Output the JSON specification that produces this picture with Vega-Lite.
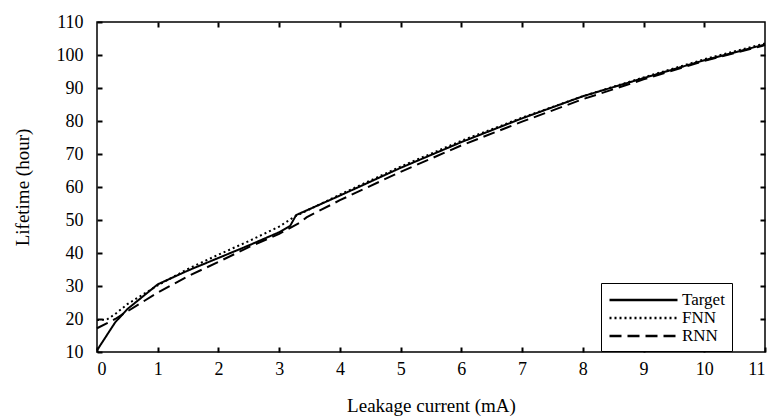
{
  "$schema": "https://vega.github.io/schema/vega-lite/v6.json",
  "width": 668,
  "height": 330,
  "autosize": "none",
  "padding": {"left": 97, "top": 22, "right": 12, "bottom": 65},
  "background": "white",
  "config": {
    "font": "Liberation Serif",
    "view": {"stroke": "black", "strokeWidth": 1.5}
  },
  "data": {
    "values": [
      {"current": 0, "lifetime": 10.5, "model": "Target"},
      {"current": 0.3, "lifetime": 19, "model": "Target"},
      {"current": 0.5, "lifetime": 23, "model": "Target"},
      {"current": 1, "lifetime": 30.5, "model": "Target"},
      {"current": 1.5, "lifetime": 34.7, "model": "Target"},
      {"current": 2, "lifetime": 38.5, "model": "Target"},
      {"current": 2.5, "lifetime": 42.3, "model": "Target"},
      {"current": 3, "lifetime": 46.3, "model": "Target"},
      {"current": 3.18, "lifetime": 48.2, "model": "Target"},
      {"current": 3.28, "lifetime": 51.5, "model": "Target"},
      {"current": 4, "lifetime": 57.4, "model": "Target"},
      {"current": 5, "lifetime": 65.8, "model": "Target"},
      {"current": 6, "lifetime": 73.6, "model": "Target"},
      {"current": 7, "lifetime": 80.8, "model": "Target"},
      {"current": 8, "lifetime": 87.5, "model": "Target"},
      {"current": 9, "lifetime": 93.0, "model": "Target"},
      {"current": 10, "lifetime": 98.4, "model": "Target"},
      {"current": 11, "lifetime": 103.2, "model": "Target"},
      {"current": 0, "lifetime": 19.7, "model": "FNN"},
      {"current": 0.16, "lifetime": 19.8, "model": "FNN"},
      {"current": 0.3, "lifetime": 21.5, "model": "FNN"},
      {"current": 0.5, "lifetime": 24.5, "model": "FNN"},
      {"current": 1, "lifetime": 30.2, "model": "FNN"},
      {"current": 1.5, "lifetime": 35.2, "model": "FNN"},
      {"current": 2, "lifetime": 39.5, "model": "FNN"},
      {"current": 2.5, "lifetime": 43.6, "model": "FNN"},
      {"current": 3, "lifetime": 48, "model": "FNN"},
      {"current": 3.25, "lifetime": 51, "model": "FNN"},
      {"current": 4, "lifetime": 57.7, "model": "FNN"},
      {"current": 5, "lifetime": 66.2, "model": "FNN"},
      {"current": 6, "lifetime": 74, "model": "FNN"},
      {"current": 7, "lifetime": 81, "model": "FNN"},
      {"current": 8, "lifetime": 87.5, "model": "FNN"},
      {"current": 9, "lifetime": 93.2, "model": "FNN"},
      {"current": 10, "lifetime": 98.7, "model": "FNN"},
      {"current": 11, "lifetime": 103.5, "model": "FNN"},
      {"current": 0, "lifetime": 17.2, "model": "RNN"},
      {"current": 0.3, "lifetime": 20, "model": "RNN"},
      {"current": 0.5, "lifetime": 22.3, "model": "RNN"},
      {"current": 1, "lifetime": 28, "model": "RNN"},
      {"current": 1.5, "lifetime": 33, "model": "RNN"},
      {"current": 2, "lifetime": 37.3, "model": "RNN"},
      {"current": 2.5, "lifetime": 41.8, "model": "RNN"},
      {"current": 3, "lifetime": 45.8, "model": "RNN"},
      {"current": 3.35, "lifetime": 49.3, "model": "RNN"},
      {"current": 3.45, "lifetime": 50.8, "model": "RNN"},
      {"current": 4, "lifetime": 56, "model": "RNN"},
      {"current": 5, "lifetime": 64.6, "model": "RNN"},
      {"current": 6, "lifetime": 72.6, "model": "RNN"},
      {"current": 7, "lifetime": 79.8, "model": "RNN"},
      {"current": 8, "lifetime": 86.6, "model": "RNN"},
      {"current": 9, "lifetime": 92.6, "model": "RNN"},
      {"current": 10, "lifetime": 98.2, "model": "RNN"},
      {"current": 11, "lifetime": 103, "model": "RNN"}
    ]
  },
  "layer": [
    {
      "mark": {"type": "line", "color": "black", "strokeWidth": 2},
      "encoding": {
        "x": {
          "field": "current", "type": "quantitative",
          "scale": {"domain": [0, 11], "nice": false, "zero": false},
          "axis": {
            "title": "Leakage current (mA)", "values": [0,1,2,3,4,5,6,7,8,9,10,11], "format": "d",
            "ticks": true, "tickSize": 5, "tickColor": "black", "tickWidth": 2, "offset": -5,
            "grid": false, "domain": false,
            "labelFont": "Liberation Serif", "labelFontSize": 18, "labelColor": "black", "labelPadding": 8,
            "titleFont": "Liberation Serif", "titleFontSize": 19, "titleFontWeight": "normal", "titleColor": "black", "titlePadding": 18
          }
        },
        "y": {
          "field": "lifetime", "type": "quantitative",
          "scale": {"domain": [10, 110], "nice": false, "zero": false},
          "axis": {
            "title": "Lifetime (hour)", "values": [10,20,30,40,50,60,70,80,90,100,110], "format": "d",
            "ticks": true, "tickSize": 5, "tickColor": "black", "tickWidth": 2, "offset": -5,
            "grid": false, "domain": false,
            "labelFont": "Liberation Serif", "labelFontSize": 18, "labelColor": "black", "labelPadding": 14,
            "titleFont": "Liberation Serif", "titleFontSize": 19, "titleFontWeight": "normal", "titleColor": "black", "titlePadding": 24
          }
        },
        "strokeDash": {
          "field": "model", "type": "nominal",
          "scale": {"domain": ["Target", "FNN", "RNN"], "range": [[1, 0], [2, 3], [12, 6]]},
          "legend": {
            "title": null, "orient": "none", "legendX": 504, "legendY": 261,
            "symbolType": "M-1,0H7", "symbolSize": 289, "symbolStrokeWidth": 2.5, "symbolStrokeColor": "black",
            "labelFont": "Liberation Serif", "labelFontSize": 17, "labelColor": "black", "labelOffset": 54,
            "strokeColor": "black", "padding": 7, "rowPadding": 0, "fillColor": "white"
          }
        }
      }
    },
    {
      "mark": {"type": "point", "opacity": 0, "size": 1},
      "encoding": {
        "x": {
          "field": "current", "type": "quantitative",
          "scale": {"domain": [0, 11], "nice": false, "zero": false},
          "axis": {"orient": "top", "title": null, "values": [1,2,3,4,5,6,7,8,9,10], "labels": false,
            "ticks": true, "tickSize": 5, "tickColor": "black", "tickWidth": 2, "offset": -5, "grid": false, "domain": false}
        },
        "y": {
          "field": "lifetime", "type": "quantitative",
          "scale": {"domain": [10, 110], "nice": false, "zero": false},
          "axis": {"orient": "right", "title": null, "values": [20,30,40,50,60,70,80,90,100], "labels": false,
            "ticks": true, "tickSize": 5, "tickColor": "black", "tickWidth": 2, "offset": -5, "grid": false, "domain": false}
        }
      }
    }
  ],
  "resolve": {"axis": {"x": "independent", "y": "independent"}}
}
